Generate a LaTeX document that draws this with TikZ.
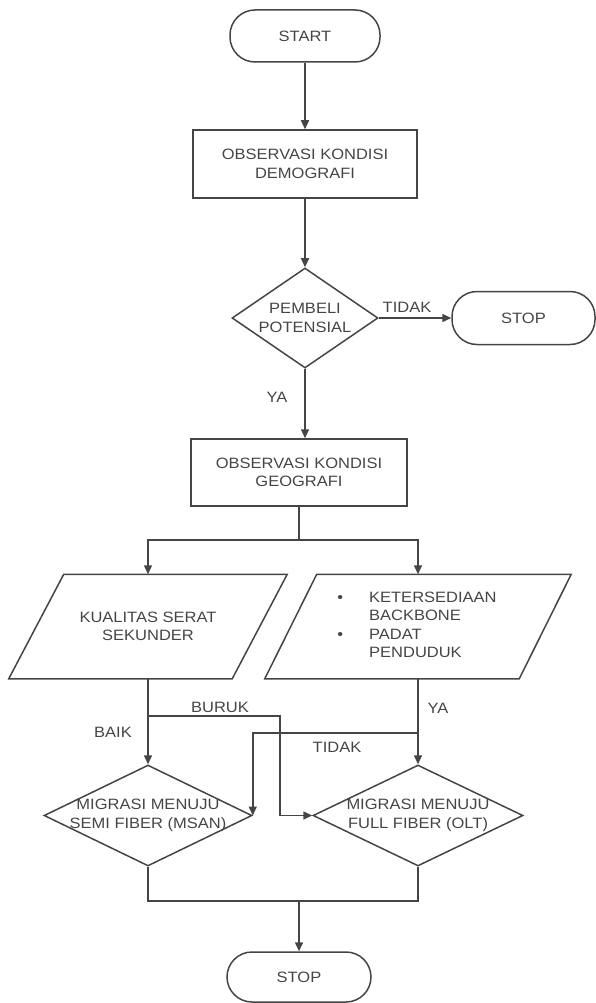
\documentclass[tikz,border=0pt]{standalone}
\usepackage{fontspec}
\setmainfont{Liberation Sans}[FakeStretch=1.1]
\usetikzlibrary{calc,arrows.meta,shapes.geometric}
\definecolor{ink}{gray}{0.27}

\begin{document}
\begin{tikzpicture}[x=1pt,y=-1pt,color=ink,line width=1.5pt,
    font=\fontsize{15}{18.5}\selectfont,
    term/.style={draw,rectangle,rounded corners=25pt,minimum width=#1,minimum height=52pt},
    proc/.style={draw,rectangle,minimum width=#1,minimum height=68pt,align=center},
    decision/.style n args={2}{draw,diamond,minimum width=#1,minimum height=#2,inner sep=0pt},
    io/.style={rectangle,minimum width=#1,minimum height=103pt,inner sep=0pt,align=center},
    txt/.style={align=center,inner sep=0pt},
    arr/.style={-{Triangle[length=9pt,width=8pt]}}]
  \useasboundingbox (0,0) rectangle (596,1003);
  \node[term=150pt] (start) at (305,36) {START};
  \node[proc=224pt] (obs1) at (305,164) {OBSERVASI KONDISI\\DEMOGRAFI};
  \node[decision={146pt}{100pt}] (beli) at (305,318) {};
  \node[txt] (tbeli) at (beli) {PEMBELI\\POTENSIAL};
  \node[term=143pt,minimum height=53pt] (stop1) at (523.5,318) {STOP};
  \node[proc=216pt,minimum height=67pt] (obs2) at (299,472.5) {OBSERVASI KONDISI\\GEOGRAFI};
  \node[io=222pt] (serat) at (148,626.5) {KUALITAS SERAT\\SEKUNDER};
  \node[io=253pt] (bb) at (418,626.5) {};
  \node[txt,align=left] (tbb) at (417,626.5) {\begin{tabular}{@{}l@{\hspace{26pt}}l@{}}
      \textbullet & KETERSEDIAAN\\ & BACKBONE\\ \textbullet & PADAT\\ & PENDUDUK\end{tabular}};
  % jajar genjang
  \draw ($(serat.north west)+(27.5,0)$)--($(serat.north east)+(27.5,0)$)
    --($(serat.south east)-(27.5,0)$)--($(serat.south west)-(27.5,0)$)--cycle;
  \draw ($(bb.north west)+(26,0)$)--($(bb.north east)+(26,0)$)
    --($(bb.south east)-(26,0)$)--($(bb.south west)-(26,0)$)--cycle;
  \node[decision={208pt}{101pt}] (msan) at (148,815.5) {};
  \node[txt] (tmsan) at (msan) {MIGRASI MENUJU\\SEMI FIBER (MSAN)};
  \node[decision={210pt}{101pt}] (olt) at (418,815.5) {};
  \node[txt] (tolt) at (olt) {MIGRASI MENUJU\\FULL FIBER (OLT)};
  \node[term=144pt,minimum height=50pt] (stop2) at (299,977) {STOP};
  % titik cabang
  \coordinate (bagi) at (299,540);
  \coordinate (buruk) at (280,716);
  \coordinate (tidak) at (418,733);
  \coordinate (gabung) at (299,901);
  % label
  \node[txt] (ltidak1) at (407,307) {TIDAK};
  \node[txt] (lya1) at (277,397) {YA};
  \node[txt] (lbaik) at (113,732) {BAIK};
  \node[txt] (lburuk) at (220,707) {BURUK};
  \node[txt] (ltidak2) at (337,747) {TIDAK};
  \node[txt] (lya2) at (438,708) {YA};
  % garis
  \draw[arr] (start)--(obs1);
  \draw[arr] (obs1)--(beli);
  \draw[arr] (beli)--(stop1);
  \draw[arr] (beli.south)--(beli.south |- obs2.north);
  \draw (obs2.south)--(bagi);
  \draw[arr] (bagi)-|(serat.north);
  \draw[arr] (bagi)-|(bb.north);
  \draw[arr] (serat.south)--(msan.north);
  \draw[arr] (serat.south |- buruk)--(buruk)|-(olt.west);
  \draw[arr] (bb.south)--(olt.north);
  \draw[arr] (tidak)-|(msan.east);
  \draw (msan.south)|-(gabung)-|(olt.south);
  \draw[arr] (gabung)--(stop2);
\end{tikzpicture}
\end{document}
